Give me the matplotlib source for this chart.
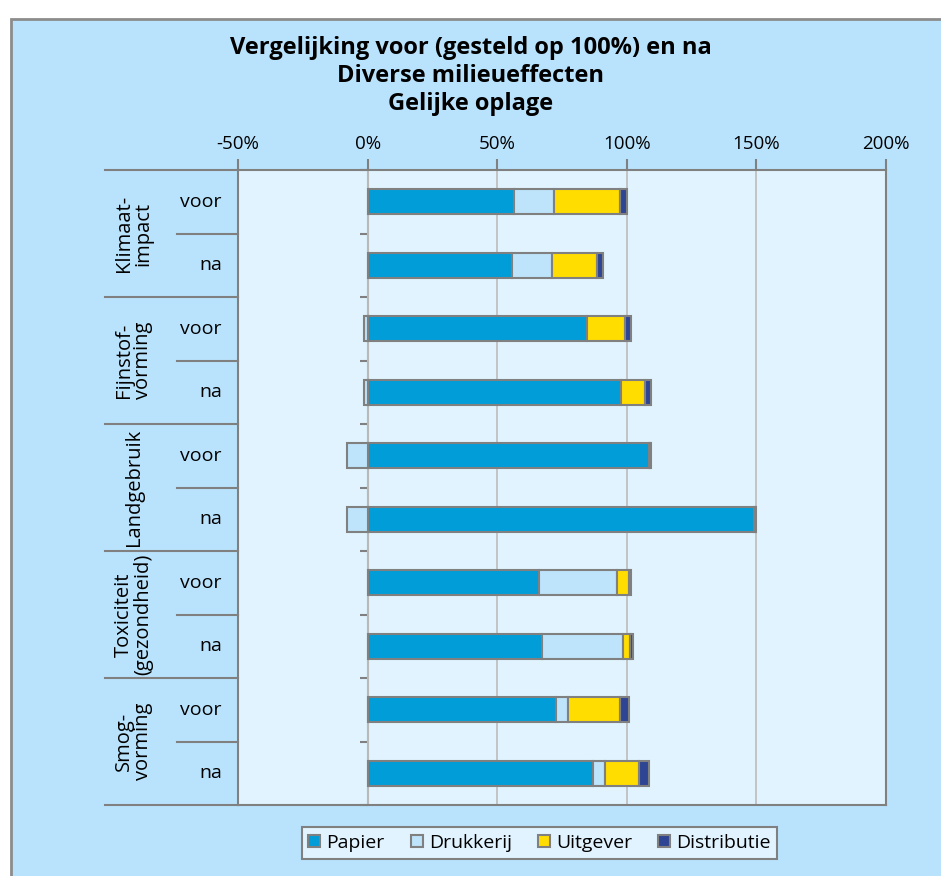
import matplotlib.pyplot as plt
from matplotlib.patches import Rectangle
import numpy as np

# categories (top to bottom)
groups = ["Klimaat-\nimpact", "Fijnstof-\nvorming", "Landgebruik",
          "Toxiciteit\n(gezondheid)", "Smog-\nvorming"]
phases = ["voor", "na"]
series = ["Papier", "Drukkerij", "Uitgever", "Distributie"]

# values in % (voor = 100%)
papier = [56.5, 55.8, 84.7, 97.7, 108.6, 149.1, 66.3, 67.2, 72.6, 86.8]
drukkerij = [15.5, 15.5, -1.5, -1.5, -7.8, -7.8, 29.8, 31.3, 4.6, 4.7]
uitgever = [25.5, 17.1, 14.5, 9.3, 0.3, 0.4, 4.6, 2.8, 20.3, 13.2]
distributie = [2.5, 2.3, 2.3, 2.3, 0.6, 0.5, 1.0, 1.2, 3.2, 3.9]

xticks = [-50, 0, 50, 100, 150, 200]

colors = ["#009DD9", "#BDE4FB", "#FFDD00", "#2E4593"]
EDGE = "#808080"
OUTER_BG = "#B9E3FC"
PLOT_BG = "#E1F3FE"


def main():
    plt.rcParams['font.family'] = ['Open Sans', 'DejaVu Sans']
    plt.rcParams['axes.unicode_minus'] = False

    W, H = 941, 876
    fig = plt.figure(figsize=(W / 100, H / 100), dpi=100)
    fig.patch.set_facecolor("white")

    # outer chart area (cropped at right and bottom)
    bg = Rectangle((11 / W, -0.02), 1.0, (H - 19) / H + 0.02, transform=fig.transFigure,
                   facecolor=OUTER_BG, edgecolor="#8C8C8C", linewidth=2, zorder=-10)
    fig.patches.append(bg)

    ax = fig.add_axes([238 / W, (H - 805) / H, 648 / W, 635 / H])
    ax.set_facecolor(PLOT_BG)

    data = [papier, drukkerij, uitgever, distributie]
    n = len(papier)
    y = np.arange(n)
    pos = np.zeros(n)
    neg = np.zeros(n)
    for vals, col, name in zip(data, colors, series):
        vals = np.array(vals)
        left = np.where(vals >= 0, pos, neg)
        ax.barh(y, vals, left=left, height=0.4, color=col, edgecolor=EDGE,
                linewidth=1.5, label=name, zorder=3)
        pos = pos + np.where(vals >= 0, vals, 0)
        neg = neg + np.where(vals < 0, vals, 0)

    ax.set_xlim(-50, 200)
    ax.set_ylim(n - 0.5, -0.5)
    ax.xaxis.tick_top()
    ax.set_xticks(xticks)
    ax.set_xticklabels([f"{v}%" for v in xticks], fontsize=13.5)
    ax.tick_params(axis='x', direction='out', length=8, width=1.5, color=EDGE, pad=4)
    ax.set_yticks([])
    ax.grid(axis='x', color="#C0C0C0", linewidth=1.3)
    ax.set_axisbelow(True)
    for s in ax.spines.values():
        s.set_color(EDGE)
        s.set_linewidth(1.5)

    # vertical axis through 0%
    zero = (0 - xticks[0]) / (xticks[-1] - xticks[0])
    sec = ax.secondary_yaxis(zero)
    sec.set_yticks(np.arange(-0.5, n, 1.0))
    sec.set_yticklabels([])
    sec.tick_params(direction='out', length=6, width=1.5, color=EDGE)
    sec.spines['left'].set_color(EDGE)
    sec.spines['left'].set_linewidth(1.5)

    # category labels on the left
    tr = ax.get_yaxis_transform()
    for i in range(n):
        ax.text(-0.025, i, phases[i % 2], transform=tr, ha='right', va='center', fontsize=14)
    for g, name in enumerate(groups):
        ax.text(-0.161, 2 * g + 0.5, name, transform=tr, ha='center', va='center',
                rotation=90, fontsize=14.5, linespacing=0.95, multialignment='center')
    for g in range(len(groups) + 1):
        yb = 2 * g - 0.5
        ax.plot([-0.205, 0], [yb, yb], transform=tr, color=EDGE, lw=1.5, clip_on=False)
    for g in range(len(groups)):
        yb = 2 * g + 0.5
        ax.plot([-0.094, 0], [yb, yb], transform=tr, color=EDGE, lw=1.5, clip_on=False)

    fig.text(0.5, (H - 76) / H, "Vergelijking voor (gesteld op 100%) en na\nDiverse milieueffecten\nGelijke oplage",
             ha='center', va='center', fontsize=17, fontweight='bold', linespacing=1.25)

    leg = fig.legend(loc='center', bbox_to_anchor=(539.5 / W, 33 / H), ncol=4, fontsize=14,
                     frameon=True, fancybox=False, edgecolor=EDGE, facecolor=PLOT_BG,
                     handlelength=0.62, handleheight=0.62, handletextpad=0.3,
                     columnspacing=1.35, borderpad=0.35, borderaxespad=0)
    leg.get_frame().set_linewidth(1.5)
    leg.get_frame().set_alpha(None)

    fig.savefig("out.png", dpi=100)


if __name__ == "__main__":
    main()
